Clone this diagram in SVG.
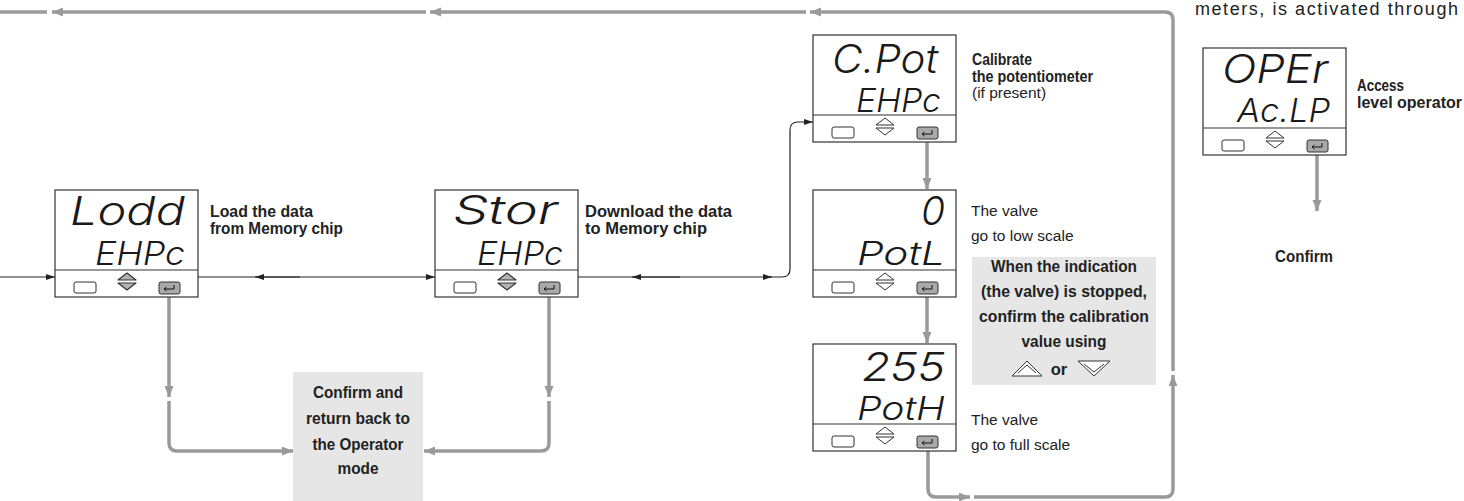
<svg xmlns="http://www.w3.org/2000/svg" xmlns:xlink="http://www.w3.org/1999/xlink" width="1464" height="501" viewBox="0 0 1464 501">
<style>
.box{fill:#fff;stroke:#333;stroke-width:1.2}
.dv{stroke:#333;stroke-width:1.2}
.btn{fill:#fff;stroke:#333;stroke-width:1}
.ent{fill:#a9a9a9;stroke:#333;stroke-width:1}
.tri{fill:#fff;stroke:#333;stroke-width:1;stroke-linejoin:round}
.trih{fill:#b3b3b3;stroke:#333;stroke-width:1.2;stroke-linejoin:round}
.seg{font-family:Inter,"DejaVu Sans",sans-serif;font-style:italic;font-weight:300;fill:#1a1a1a}
.s1{font-size:39px}
.s2{font-size:32px}
.lb{font-family:"Liberation Sans",Arial,sans-serif;font-weight:bold;font-size:16.5px;fill:#222}
.lr{font-family:"Liberation Sans",Arial,sans-serif;font-size:15.5px;fill:#222}
.gb{fill:#e6e6e6}
.g{fill:none;stroke:#9a9a9a;stroke-width:3.5}
.k{fill:none;stroke:#222;stroke-width:1.2}
</style>
<defs>
<marker id="ga" markerUnits="userSpaceOnUse" markerWidth="12" markerHeight="10" refX="11" refY="4.5" orient="auto"><polygon points="0,0 11,4.5 0,9" fill="#9a9a9a"/></marker>
<marker id="ka" markerUnits="userSpaceOnUse" markerWidth="10" markerHeight="7" refX="9" refY="3" orient="auto"><polygon points="0,0 9,3 0,6" fill="#222"/></marker>
<g id="panel">
<rect class="box" x="0" y="0" width="143" height="107"/>
<line class="dv" x1="0" y1="80" x2="143" y2="80"/>
<rect class="btn" x="19" y="92" width="22" height="11" rx="2"/>
<rect class="ent" x="104" y="92" width="21" height="12" rx="2"/>
<path d="M119 95 V99 H109 M111.5 97 L109 99 L111.5 101" stroke="#111" fill="none" stroke-width="1"/>
</g>
<g id="arrN">
<path class="tri" d="M63 90 L72 83 L81 90 Z"/>
<path class="tri" d="M63 93 L72 100 L81 93 Z"/>
</g>
<g id="arrH">
<path class="trih" d="M63 90 L72 83 L81 90 Z"/>
<path class="trih" d="M63 93 L72 100 L81 93 Z"/>
</g>
</defs>

<g id="connectors">
<path class="g" d="M928 448 V489 Q928 497 936 497 H970" marker-end="url(#ga)"/>
<path class="g" d="M974 497 H1165 Q1173 497 1173 489 V375" marker-end="url(#ga)"/>
<path class="g" d="M1173 371 V20 Q1173 12 1165 12 H810" marker-end="url(#ga)"/>
<path class="g" d="M806 12 H430" marker-end="url(#ga)"/>
<path class="g" d="M426 12 H52" marker-end="url(#ga)"/>
<path class="g" d="M47 12 H0"/>
<path class="g" d="M169 293 V397" marker-end="url(#ga)"/>
<path class="g" d="M169 401 V443 Q169 451 177 451 H293" marker-end="url(#ga)"/>
<path class="g" d="M549 293 V397" marker-end="url(#ga)"/>
<path class="g" d="M549 401 V443 Q549 451 541 451 H424" marker-end="url(#ga)"/>
<path class="g" d="M927 139 V189" marker-end="url(#ga)"/>
<path class="g" d="M927 295 V343" marker-end="url(#ga)"/>
<path class="g" d="M1317 153 V211" marker-end="url(#ga)"/>
<path class="k" d="M0 277 H55" marker-end="url(#ka)"/>
<path class="k" d="M137 277 H145 V290 H137"/>
<path class="k" d="M145 277 H435" marker-end="url(#ka)"/>
<path class="k" d="M300 277 H255" marker-end="url(#ka)"/>
<path class="k" d="M517 277 H525 V290 H517"/>
<path class="k" d="M525 277 H772" marker-end="url(#ka)"/>
<path class="k" d="M680 277 H632" marker-end="url(#ka)"/>
<path class="k" d="M770 277 H782 Q790 277 790 269 V130 Q790 122 798 122 H813" marker-end="url(#ka)"/>
</g>

<g id="load">
<use xlink:href="#panel" x="55" y="190"/>
<use xlink:href="#arrH" x="55" y="190"/>
<text class="seg s1" x="70" y="225" textLength="115" lengthAdjust="spacingAndGlyphs">Lodd</text>
<text class="seg s2" x="95" y="265" textLength="90" lengthAdjust="spacingAndGlyphs">EHPc</text>
<text class="lb" x="210" y="217" textLength="103" lengthAdjust="spacingAndGlyphs">Load the data</text>
<text class="lb" x="210" y="234" textLength="133" lengthAdjust="spacingAndGlyphs">from Memory chip</text>
</g>

<g id="stor">
<use xlink:href="#panel" x="435" y="190"/>
<use xlink:href="#arrH" x="435" y="190"/>
<text class="seg s1" x="453" y="224" textLength="105" lengthAdjust="spacingAndGlyphs">Stor</text>
<text class="seg s2" x="477" y="265" textLength="86" lengthAdjust="spacingAndGlyphs">EHPc</text>
<text class="lb" x="585" y="217" textLength="147" lengthAdjust="spacingAndGlyphs">Download the data</text>
<text class="lb" x="585" y="234" textLength="122" lengthAdjust="spacingAndGlyphs">to Memory chip</text>
</g>

<g id="cpot">
<use xlink:href="#panel" x="813" y="35"/>
<use xlink:href="#arrN" x="813" y="35"/>
<text class="seg s1" x="832" y="73" textLength="106" lengthAdjust="spacingAndGlyphs">C.Pot</text>
<text class="seg s2" x="856" y="112" textLength="85" lengthAdjust="spacingAndGlyphs">EHPc</text>
<text class="lb" x="972" y="65" textLength="60" lengthAdjust="spacingAndGlyphs">Calibrate</text>
<text class="lb" x="972" y="82" textLength="121" lengthAdjust="spacingAndGlyphs">the potentiometer</text>
<text class="lr" x="972" y="98">(if present)</text>
</g>

<g id="potl">
<use xlink:href="#panel" x="813" y="190"/>
<use xlink:href="#arrN" x="813" y="190"/>
<text class="seg s1" x="945" y="225" text-anchor="end">0</text>
<text class="seg s2" x="857" y="265" textLength="88" lengthAdjust="spacingAndGlyphs">PotL</text>
<text class="lr" x="971" y="216">The valve</text>
<text class="lr" x="971" y="241">go to low scale</text>
</g>

<g id="note">
<rect class="gb" x="972" y="257" width="184" height="128"/>
<text class="lb" x="1064" y="272" text-anchor="middle" textLength="146" lengthAdjust="spacingAndGlyphs">When the indication</text>
<text class="lb" x="1064" y="297" text-anchor="middle" textLength="166" lengthAdjust="spacingAndGlyphs">(the valve) is stopped,</text>
<text class="lb" x="1064" y="322" text-anchor="middle" textLength="170" lengthAdjust="spacingAndGlyphs">confirm the calibration</text>
<text class="lb" x="1064" y="347" text-anchor="middle" textLength="85" lengthAdjust="spacingAndGlyphs">value using</text>
<path class="tri" d="M1012 376 L1027 361 L1042 376 Z M1018 373 L1027 365 L1036 373" fill="none"/>
<text class="lb" x="1059" y="375" text-anchor="middle">or</text>
<path class="tri" d="M1078 361 L1094 376 L1110 361 Z M1084 364 L1094 372 L1104 364" fill="none"/>
</g>

<g id="poth">
<use xlink:href="#panel" x="813" y="344"/>
<use xlink:href="#arrN" x="813" y="344"/>
<text class="seg s1" x="862" y="381" textLength="83" lengthAdjust="spacingAndGlyphs">255</text>
<text class="seg s2" x="857" y="420" textLength="88" lengthAdjust="spacingAndGlyphs">PotH</text>
<text class="lr" x="971" y="425">The valve</text>
<text class="lr" x="971" y="450">go to full scale</text>
</g>

<g id="confirm-return">
<rect class="gb" x="293" y="372" width="130" height="129"/>
<text class="lb" x="358" y="398" text-anchor="middle" textLength="90" lengthAdjust="spacingAndGlyphs">Confirm and</text>
<text class="lb" x="358" y="424" text-anchor="middle" textLength="104" lengthAdjust="spacingAndGlyphs">return back to</text>
<text class="lb" x="358" y="450" text-anchor="middle" textLength="91" lengthAdjust="spacingAndGlyphs">the Operator</text>
<text class="lb" x="358" y="474" text-anchor="middle" textLength="41" lengthAdjust="spacingAndGlyphs">mode</text>
</g>

<g id="oper">
<use xlink:href="#panel" x="1203" y="48"/>
<use xlink:href="#arrN" x="1203" y="48"/>
<text class="seg s1" x="1222" y="83" textLength="106" lengthAdjust="spacingAndGlyphs">OPEr</text>
<text class="seg s2" x="1237" y="122" textLength="93" lengthAdjust="spacingAndGlyphs">Ac.LP</text>
<text class="lb" x="1357" y="91" textLength="47" lengthAdjust="spacingAndGlyphs">Access</text>
<text class="lb" x="1357" y="108" textLength="105" lengthAdjust="spacingAndGlyphs">level operator</text>
</g>

<g id="confirm">
<text class="lb" x="1304" y="262" text-anchor="middle" textLength="58" lengthAdjust="spacingAndGlyphs">Confirm</text>
</g>

<text class="lr" x="1195" y="15" style="font-size:18px" textLength="263">meters, is activated through</text>
</svg>
